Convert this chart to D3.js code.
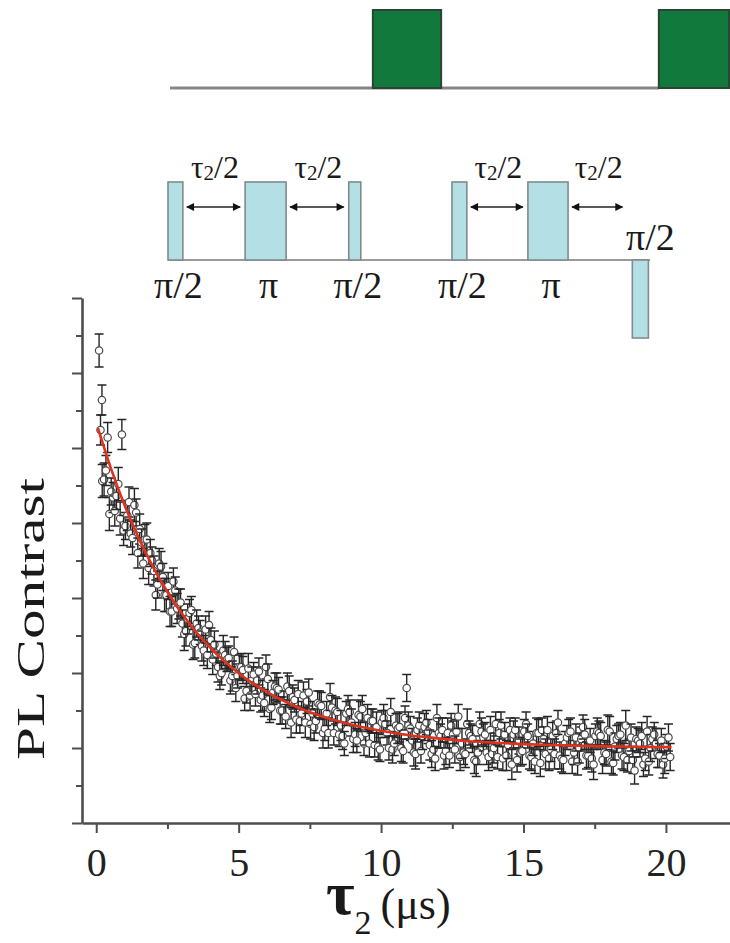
<!DOCTYPE html>
<html>
<head>
<meta charset="utf-8">
<script src="https://cdn.jsdelivr.net/npm/d3@7"></script>
<style>
  body { margin: 0; background: #fff; }
  svg { display: block; }
</style>
</head>
<body>
<svg id="fig" width="730" height="943"></svg>
<script>
// ---- Hahn-echo decay: free-evolution time tau2 (µs) vs. PL contrast ----
// run A
const tauA = [
  0.10, 0.20,
  0.15, 0.275, 0.4, 0.525, 0.65, 0.775, 0.9, 1.025, 1.15, 1.275,
  1.4, 1.525, 1.65, 1.775, 1.9, 2.025, 2.15, 2.275, 2.4, 2.525,
  2.65, 2.775, 2.9, 3.025, 3.15, 3.275, 3.4, 3.525, 3.65, 3.775,
  3.9, 4.025, 4.15, 4.275, 4.4, 4.525, 4.65, 4.775, 4.9, 5.025,
  5.15, 5.275, 5.4, 5.525, 5.65, 5.775, 5.9, 6.025, 6.15, 6.275,
  6.4, 6.525, 6.65, 6.775, 6.9, 7.025, 7.15, 7.275, 7.4, 7.525,
  7.65, 7.775, 7.9, 8.025, 8.15, 8.275, 8.4, 8.525, 8.65, 8.775,
  8.9, 9.025, 9.15, 9.275, 9.4, 9.525, 9.65, 9.775, 9.9, 10.025,
  10.15, 10.275, 10.4, 10.525, 10.65, 10.775, 10.9, 11.025, 11.15, 11.275,
  11.4, 11.525, 11.65, 11.775, 11.9, 12.025, 12.15, 12.275, 12.4, 12.525,
  12.65, 12.775, 12.9, 13.025, 13.15, 13.275, 13.4, 13.525, 13.65, 13.775,
  13.9, 14.025, 14.15, 14.275, 14.4, 14.525, 14.65, 14.775, 14.9, 15.025,
  15.15, 15.275, 15.4, 15.525, 15.65, 15.775, 15.9, 16.025, 16.15, 16.275,
  16.4, 16.525, 16.65, 16.775, 16.9, 17.025, 17.15, 17.275, 17.4, 17.525,
  17.65, 17.775, 17.9, 18.025, 18.15, 18.275, 18.4, 18.525, 18.65, 18.775,
  18.9, 19.025, 19.15, 19.275, 19.4, 19.525, 19.65, 19.775, 19.9, 20.025,
  20.15
];
const contrastA = [
  0.315, 0.282,
  0.262, 0.229, 0.257, 0.221, 0.208, 0.226, 0.259, 0.198, 0.214, 0.190,
  0.207, 0.196, 0.173, 0.189, 0.180, 0.168, 0.159, 0.171, 0.152, 0.158,
  0.141, 0.155, 0.146, 0.133, 0.128, 0.140, 0.119, 0.133, 0.127, 0.115,
  0.112, 0.122, 0.119, 0.104, 0.100, 0.112, 0.110, 0.098, 0.090, 0.104,
  0.102, 0.088, 0.085, 0.099, 0.095, 0.082, 0.080, 0.096, 0.077, 0.091,
  0.089, 0.075, 0.071, 0.088, 0.084, 0.069, 0.068, 0.085, 0.081, 0.066,
  0.064, 0.080, 0.078, 0.063, 0.060, 0.077, 0.075, 0.059, 0.058, 0.073,
  0.074, 0.056, 0.055, 0.071, 0.053, 0.070, 0.068, 0.052, 0.051, 0.067,
  0.066, 0.050, 0.049, 0.065, 0.064, 0.048, 0.090, 0.063, 0.047, 0.062,
  0.048, 0.064, 0.061, 0.046, 0.043, 0.060, 0.062, 0.048, 0.045, 0.059,
  0.061, 0.044, 0.047, 0.066, 0.058, 0.042, 0.047, 0.061, 0.059, 0.044,
  0.046, 0.066, 0.060, 0.043, 0.045, 0.062, 0.059, 0.042, 0.047, 0.061,
  0.058, 0.044, 0.041, 0.060, 0.062, 0.046, 0.043, 0.058, 0.060, 0.045,
  0.042, 0.057, 0.061, 0.047, 0.041, 0.056, 0.059, 0.045, 0.043, 0.058,
  0.060, 0.042, 0.046, 0.061, 0.040, 0.056, 0.059, 0.044, 0.042, 0.057,
  0.035, 0.055, 0.058, 0.043, 0.041, 0.056, 0.053, 0.045, 0.039, 0.051,
  0.044
];
const errA = [
  0.011, 0.010,
  0.010, 0.011, 0.010, 0.009, 0.010, 0.011, 0.010, 0.009, 0.010, 0.011,
  0.009, 0.010, 0.010, 0.011, 0.009, 0.010, 0.009, 0.010, 0.011, 0.009,
  0.010, 0.009, 0.010, 0.009, 0.010, 0.009, 0.010, 0.009, 0.008, 0.010,
  0.009, 0.008, 0.009, 0.010, 0.008, 0.009, 0.008, 0.010, 0.009, 0.008,
  0.009, 0.008, 0.010, 0.008, 0.009, 0.008, 0.009, 0.010, 0.008, 0.009,
  0.008, 0.009, 0.008, 0.010, 0.008, 0.009, 0.008, 0.009, 0.008, 0.010,
  0.009, 0.008, 0.009, 0.008, 0.010, 0.008, 0.009, 0.008, 0.009, 0.008,
  0.008, 0.009, 0.008, 0.010, 0.008, 0.009, 0.008, 0.008, 0.009, 0.008,
  0.009, 0.008, 0.009, 0.008, 0.010, 0.008, 0.009, 0.008, 0.009, 0.008,
  0.008, 0.009, 0.008, 0.009, 0.008, 0.010, 0.008, 0.009, 0.008, 0.009,
  0.008, 0.009, 0.008, 0.010, 0.008, 0.009, 0.008, 0.009, 0.008, 0.009,
  0.009, 0.008, 0.009, 0.008, 0.010, 0.008, 0.009, 0.008, 0.009, 0.008,
  0.008, 0.009, 0.008, 0.009, 0.008, 0.010, 0.008, 0.009, 0.008, 0.009,
  0.009, 0.008, 0.009, 0.008, 0.009, 0.008, 0.010, 0.008, 0.009, 0.008,
  0.008, 0.009, 0.008, 0.010, 0.008, 0.009, 0.008, 0.009, 0.008, 0.009,
  0.009, 0.008, 0.009, 0.008, 0.009, 0.008, 0.010, 0.008, 0.009, 0.008,
  0.009
];

// run B
const tauB = [
  0.21, 0.34, 0.46, 0.59, 0.71, 0.84, 0.96, 1.09, 1.21, 1.34,
  1.46, 1.59, 1.71, 1.84, 1.96, 2.09, 2.21, 2.34, 2.46, 2.59,
  2.71, 2.84, 2.96, 3.09, 3.21, 3.34, 3.46, 3.59, 3.71, 3.84,
  3.96, 4.09, 4.21, 4.34, 4.46, 4.59, 4.71, 4.84, 4.96, 5.09,
  5.21, 5.34, 5.46, 5.59, 5.71, 5.84, 5.96, 6.09, 6.21, 6.34,
  6.46, 6.59, 6.71, 6.84, 6.96, 7.09, 7.21, 7.34, 7.46, 7.59,
  7.71, 7.84, 7.96, 8.09, 8.21, 8.34, 8.46, 8.59, 8.71, 8.84,
  8.96, 9.09, 9.21, 9.34, 9.46, 9.59, 9.71, 9.84, 9.96, 10.09,
  10.21, 10.34, 10.46, 10.59, 10.71, 10.84, 10.96, 11.09, 11.21, 11.34,
  11.46, 11.59, 11.71, 11.84, 11.96, 12.09, 12.21, 12.34, 12.46, 12.59,
  12.71, 12.84, 12.96, 13.09, 13.21, 13.34, 13.46, 13.59, 13.71, 13.84,
  13.96, 14.09, 14.21, 14.34, 14.46, 14.59, 14.71, 14.84, 14.96, 15.09,
  15.21, 15.34, 15.46, 15.59, 15.71, 15.84, 15.96, 16.09, 16.21, 16.34,
  16.46, 16.59, 16.71, 16.84, 16.96, 17.09, 17.21, 17.34, 17.46, 17.59,
  17.71, 17.84, 17.96, 18.09, 18.21, 18.34, 18.46, 18.59, 18.71, 18.84,
  18.96, 19.09, 19.21, 19.34, 19.46, 19.59, 19.71, 19.84, 19.96, 20.09
];
const contrastB = [
  0.228, 0.235, 0.206, 0.217, 0.218, 0.203, 0.195, 0.205, 0.193, 0.212,
  0.180, 0.187, 0.189, 0.170, 0.175, 0.152, 0.173, 0.164, 0.152, 0.141,
  0.161, 0.143, 0.147, 0.126, 0.136, 0.142, 0.120, 0.130, 0.118, 0.129,
  0.132, 0.109, 0.113, 0.098, 0.115, 0.109, 0.095, 0.114, 0.098, 0.104,
  0.083, 0.103, 0.095, 0.086, 0.101, 0.085, 0.104, 0.076, 0.087, 0.090,
  0.075, 0.080, 0.091, 0.067, 0.082, 0.086, 0.073, 0.067, 0.087, 0.073,
  0.068, 0.079, 0.060, 0.073, 0.084, 0.060, 0.074, 0.065, 0.053, 0.076,
  0.067, 0.059, 0.072, 0.076, 0.060, 0.053, 0.068, 0.064, 0.049, 0.070,
  0.060, 0.074, 0.053, 0.063, 0.050, 0.070, 0.065, 0.055, 0.046, 0.065,
  0.058, 0.067, 0.052, 0.049, 0.070, 0.058, 0.045, 0.060, 0.065, 0.049,
  0.071, 0.053, 0.046, 0.060, 0.056, 0.041, 0.066, 0.057, 0.047, 0.062,
  0.050, 0.044, 0.065, 0.059, 0.052, 0.039, 0.062, 0.055, 0.048, 0.066,
  0.045, 0.053, 0.060, 0.040, 0.056, 0.062, 0.049, 0.046, 0.067, 0.043,
  0.053, 0.060, 0.041, 0.057, 0.050, 0.064, 0.045, 0.055, 0.039, 0.061,
  0.058, 0.047, 0.062, 0.041, 0.051, 0.058, 0.045, 0.065, 0.048, 0.042,
  0.056, 0.053, 0.039, 0.061, 0.050, 0.059, 0.046, 0.055, 0.043, 0.057
];
const errB = [
  0.011, 0.010, 0.011, 0.010, 0.009, 0.011, 0.010, 0.010, 0.009, 0.011,
  0.010, 0.009, 0.010, 0.011, 0.009, 0.010, 0.010, 0.009, 0.011, 0.010,
  0.009, 0.010, 0.009, 0.011, 0.010, 0.009, 0.010, 0.008, 0.010, 0.009,
  0.009, 0.010, 0.008, 0.009, 0.010, 0.008, 0.009, 0.010, 0.008, 0.009,
  0.008, 0.010, 0.009, 0.008, 0.009, 0.010, 0.008, 0.009, 0.008, 0.010,
  0.009, 0.008, 0.009, 0.010, 0.008, 0.009, 0.008, 0.010, 0.009, 0.008,
  0.008, 0.009, 0.010, 0.008, 0.009, 0.008, 0.009, 0.010, 0.008, 0.009,
  0.009, 0.008, 0.010, 0.009, 0.008, 0.009, 0.008, 0.010, 0.008, 0.009,
  0.008, 0.009, 0.008, 0.010, 0.009, 0.008, 0.009, 0.008, 0.010, 0.009,
  0.009, 0.008, 0.010, 0.008, 0.009, 0.008, 0.009, 0.010, 0.008, 0.009,
  0.008, 0.010, 0.009, 0.008, 0.009, 0.010, 0.008, 0.009, 0.008, 0.009,
  0.010, 0.008, 0.009, 0.008, 0.009, 0.010, 0.008, 0.009, 0.009, 0.008,
  0.009, 0.008, 0.010, 0.009, 0.008, 0.009, 0.008, 0.010, 0.008, 0.009,
  0.008, 0.009, 0.008, 0.009, 0.010, 0.008, 0.009, 0.008, 0.010, 0.009,
  0.009, 0.008, 0.010, 0.008, 0.009, 0.008, 0.009, 0.010, 0.008, 0.009,
  0.008, 0.009, 0.008, 0.010, 0.009, 0.008, 0.009, 0.008, 0.010, 0.009
];

// exponential decay fit, sampled along tau2
const fitTau = [0.06, 0.5, 1, 1.5, 2, 2.5, 3, 3.5, 4, 5, 6, 7, 8, 9, 10,
                11, 12, 13, 14, 15, 16, 17, 18, 19, 20.2];
const fitContrast = [0.2632, 0.2373, 0.2117, 0.1896, 0.1705, 0.1540, 0.1398, 0.1275, 0.1169,
                     0.0999, 0.0872, 0.0777, 0.0706, 0.0654, 0.0615, 0.0585, 0.0564, 0.0547,
                     0.0535, 0.0526, 0.0520, 0.0515, 0.0511, 0.0508, 0.0506];

const xMajorTicks = [0, 5, 10, 15, 20];
const xMinorTicks = [2.5, 7.5, 12.5, 17.5];
const yMajorTicks = [0, 0.05, 0.10, 0.15, 0.20, 0.25, 0.30, 0.35];
const yMinorTicks = [0.025, 0.075, 0.125, 0.175, 0.225, 0.275, 0.325];

// ---- pulse sequence (arbitrary sequence-time units) ----
const laserPulses = [
  { start: 51, end: 68 },
  { start: 122.2, end: 139.7 }
];
const mwPulses = [
  { label: "π/2", start: 0,     end: 3.7,   phase: 1 },
  { label: "π",   start: 19.2,  end: 29.4,  phase: 1 },
  { label: "π/2", start: 45,    end: 48,    phase: 1 },
  { label: "π/2", start: 70.7,  end: 74.4,  phase: 1 },
  { label: "π",   start: 89.6,  end: 99.6,  phase: 1 },
  { label: "π/2", start: 115.6, end: 119.6, phase: -1 }
];
const delayArrows = [
  { from: 3.7, to: 19.2 },
  { from: 29.4, to: 45 },
  { from: 74.4, to: 89.6 },
  { from: 99.6, to: 114.4 }
];

const SERIF = "'Liberation Serif', 'Times New Roman', Times, serif";
const svg = d3.select("#fig");

// ================= pulse sequence diagram =================
const seqX = d3.scaleLinear().domain([0, 120]).range([168, 650]);
const laserY = d3.scaleLinear().domain([0, 1]).range([88, 10]);
const mwY = d3.scaleLinear().domain([-1, 0, 1]).range([338, 260, 182]);

const seq = svg.append("g").attr("class", "sequence");

seq.append("line")
  .attr("x1", seqX(0.5)).attr("x2", seqX(laserPulses[1].start))
  .attr("y1", laserY(0)).attr("y2", laserY(0))
  .attr("stroke", "#858585").attr("stroke-width", 3);

seq.selectAll("rect.laser").data(laserPulses).join("rect")
  .attr("class", "laser")
  .attr("x", d => seqX(d.start))
  .attr("width", d => seqX(d.end) - seqX(d.start))
  .attr("y", laserY(1))
  .attr("height", laserY(0) - laserY(1))
  .attr("fill", "#12793d")
  .attr("stroke", "#2c4434").attr("stroke-width", 2);

seq.append("line")
  .attr("x1", seqX(0)).attr("x2", seqX(120))
  .attr("y1", mwY(0)).attr("y2", mwY(0))
  .attr("stroke", "#9a9a9a").attr("stroke-width", 2);

seq.selectAll("rect.mw").data(mwPulses).join("rect")
  .attr("class", "mw")
  .attr("x", d => seqX(d.start))
  .attr("width", d => seqX(d.end) - seqX(d.start))
  .attr("y", d => d.phase > 0 ? mwY(1) : mwY(0))
  .attr("height", d => d.phase > 0 ? mwY(0) - mwY(1) : mwY(-1) - mwY(0))
  .attr("fill", "#b3dfe5")
  .attr("stroke", "#7f8b8c").attr("stroke-width", 1.6);

seq.selectAll("text.mwlab").data(mwPulses).join("text")
  .attr("class", "mwlab")
  .attr("x", d => (seqX(d.start) + seqX(d.end)) / 2 + (d.phase > 0 ? 3 : 10))
  .attr("y", d => d.phase > 0 ? 298 : 250)
  .attr("text-anchor", "middle")
  .attr("font-family", SERIF)
  .attr("font-size", 38)
  .attr("fill", "#1a1a1a")
  .text(d => d.label);

const defs = svg.append("defs");
["start", "end"].forEach(k => {
  defs.append("marker")
    .attr("id", "head-" + k)
    .attr("viewBox", "0 0 10 10")
    .attr("refX", k === "end" ? 9 : 1).attr("refY", 5)
    .attr("markerWidth", 9).attr("markerHeight", 8)
    .attr("markerUnits", "userSpaceOnUse")
    .attr("orient", "auto")
    .append("path")
    .attr("d", k === "end" ? "M0,0 L10,5 L0,10 Z" : "M10,0 L0,5 L10,10 Z")
    .attr("fill", "#111");
});

seq.selectAll("line.delay").data(delayArrows).join("line")
  .attr("class", "delay")
  .attr("x1", d => seqX(d.from) + 4).attr("x2", d => seqX(d.to) - 5)
  .attr("y1", 207).attr("y2", 207)
  .attr("stroke", "#222").attr("stroke-width", 1.5)
  .attr("marker-start", "url(#head-start)")
  .attr("marker-end", "url(#head-end)");

const tauLab = seq.selectAll("text.delaylab").data(delayArrows).join("text")
  .attr("class", "delaylab")
  .attr("x", d => (seqX(d.from) + seqX(d.to)) / 2 + 1)
  .attr("y", 178)
  .attr("text-anchor", "middle")
  .attr("font-family", SERIF)
  .attr("fill", "#1a1a1a");
tauLab.append("tspan").attr("font-size", 31).text("τ");
tauLab.append("tspan").attr("font-size", 21).attr("dy", 2).text("2");
tauLab.append("tspan").attr("font-size", 32).attr("dy", -2).text("/2");

// ================= decay plot =================
const x = d3.scaleLinear().domain([-0.5, 22.25]).range([82, 730]);
const y = d3.scaleLinear().domain([0, 0.35]).range([823, 298]);

const plot = svg.append("g").attr("class", "plot");
const points = [
  ...tauA.map((t, i) => ({ t, v: contrastA[i], e: errA[i] })),
  ...tauB.map((t, i) => ({ t, v: contrastB[i], e: errB[i] }))
].sort((a, b) => a.t - b.t);

const pts = plot.append("g").selectAll("g").data(points).join("g");
pts.append("path")
  .attr("d", d => {
    const cx = x(d.t), lo = y(d.v - d.e), hi = y(d.v + d.e);
    return `M${cx},${lo}V${hi}M${cx - 4.5},${lo}H${cx + 4.5}M${cx - 4.5},${hi}H${cx + 4.5}`;
  })
  .attr("stroke", "#262626").attr("stroke-width", 1.4).attr("fill", "none");
pts.append("circle")
  .attr("cx", d => x(d.t)).attr("cy", d => y(d.v))
  .attr("r", 3.7)
  .attr("fill", "#fff")
  .attr("stroke", "#4a4a4a").attr("stroke-width", 1.2);

const fitLine = d3.line()
  .x((d, i) => x(fitTau[i]))
  .y(d => y(d))
  .curve(d3.curveMonotoneX);
plot.append("path")
  .attr("d", fitLine(fitContrast))
  .attr("fill", "none")
  .attr("stroke", "#e0301e")
  .attr("stroke-width", 2.6);

// axes
function styleAxis(g) {
  g.select(".domain").attr("stroke", "#4d4d4d").attr("stroke-width", 2.6);
  g.selectAll(".tick line").attr("stroke", "#4d4d4d").attr("stroke-width", 2);
}

const gx = plot.append("g")
  .attr("transform", `translate(0,${y(0)})`)
  .call(d3.axisBottom(x).tickValues(xMajorTicks).tickSize(10).tickSizeOuter(0)
        .tickFormat(d3.format("d")))
  .call(styleAxis);
gx.selectAll(".tick text")
  .attr("y", 53).attr("dy", null)
  .attr("font-family", SERIF).attr("font-size", 40).attr("fill", "#222");

plot.append("g")
  .attr("transform", `translate(0,${y(0)})`)
  .call(d3.axisBottom(x).tickValues(xMinorTicks).tickSize(6).tickFormat(""))
  .call(g => g.select(".domain").remove())
  .call(styleAxis);

plot.append("g")
  .attr("transform", `translate(${x.range()[0]},0)`)
  .call(d3.axisLeft(y).tickValues(yMajorTicks).tickSize(10).tickSizeOuter(0).tickFormat(""))
  .call(styleAxis);

plot.append("g")
  .attr("transform", `translate(${x.range()[0]},0)`)
  .call(d3.axisLeft(y).tickValues(yMinorTicks).tickSize(6).tickFormat(""))
  .call(g => g.select(".domain").remove())
  .call(styleAxis);

// axis titles
plot.append("text")
  .attr("transform", "translate(44,619) rotate(-90)")
  .attr("text-anchor", "middle")
  .attr("font-family", SERIF)
  .attr("font-size", 40)
  .attr("textLength", 282)
  .attr("lengthAdjust", "spacingAndGlyphs")
  .attr("fill", "#1a1a1a")
  .text("PL Contrast");

const xt = plot.append("text")
  .attr("x", 326).attr("y", 914)
  .attr("font-family", SERIF)
  .attr("fill", "#1a1a1a");
xt.append("tspan").attr("font-size", 62).attr("font-weight", "bold").text("τ");
xt.append("tspan").attr("font-size", 34).attr("dy", 20).text("2");
xt.append("tspan").attr("font-size", 44).attr("dx", 9).attr("dy", -15).text("(μs)");
</script>
</body>
</html>
